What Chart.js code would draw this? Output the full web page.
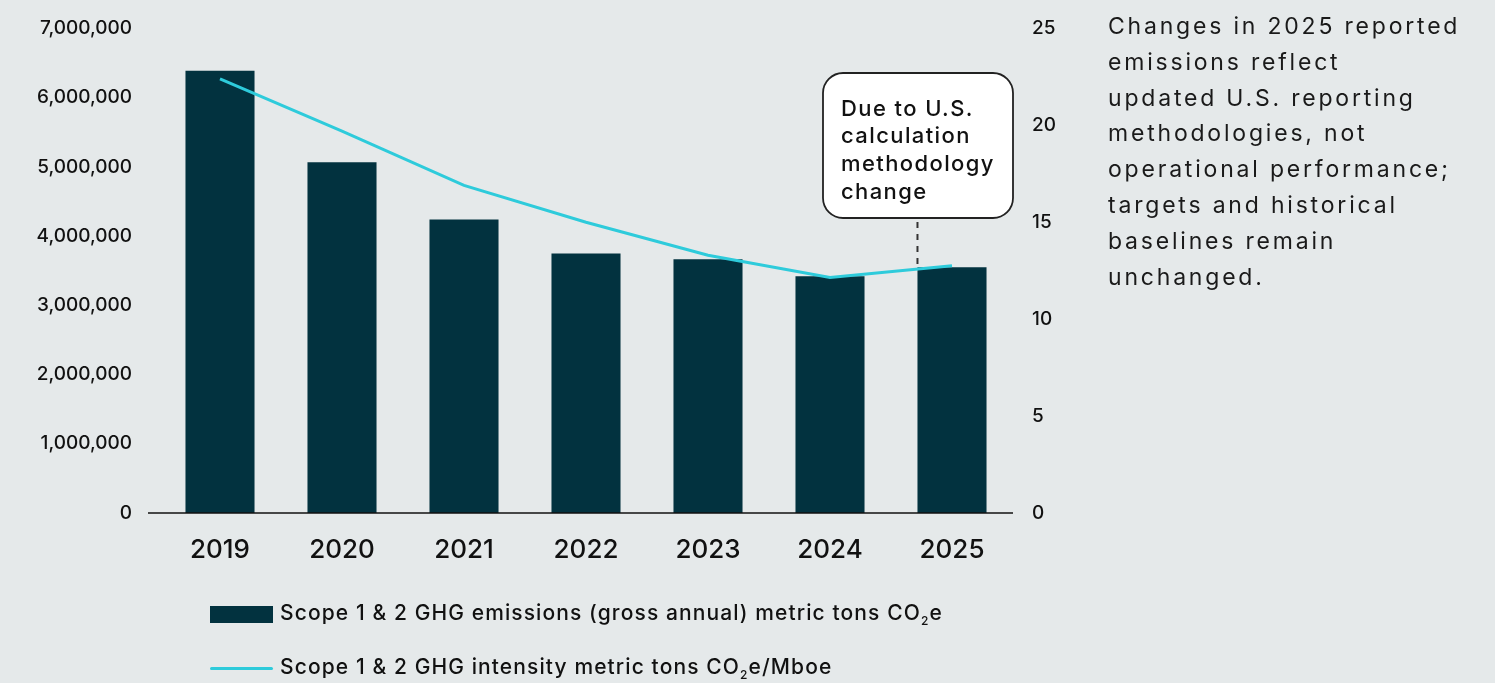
<!DOCTYPE html>
<html>
<head>
<meta charset="utf-8">
<script src="https://cdn.jsdelivr.net/npm/chart.js@4"></script>
<style>
  html, body { margin: 0; padding: 0; background: #e5e9ea; }
  body { width: 1495px; height: 683px; position: relative; overflow: hidden; font-family: Inter, "Noto Sans", sans-serif; }
  #wrap { position: absolute; left: 0; top: -10px; width: 1495px; height: 693px; }
  .note { position: absolute; left: 1108px; top: 9px; width: 387px; font-size: 23px; line-height: 35.8px; letter-spacing: 2.8px; color: #1a1a1a; white-space: nowrap; }
  .legend { position: absolute; left: 210px; font-size: 21px; color: #111; font-weight: 500; letter-spacing: 1.1px; white-space: nowrap; }
  .legend .sw { display: inline-block; width: 63px; vertical-align: middle; margin-right: 7px; }
  .legend sub { font-size: 12px; }
</style>
</head>
<body>
<div id="wrap"><canvas id="aChart" width="1495" height="693"></canvas></div>
<div class="note">Changes in 2025 reported<br>emissions reflect<br>updated U.S. reporting<br>methodologies, not<br>operational performance;<br>targets and historical<br>baselines remain<br>unchanged.</div>
<div class="legend" style="top:600px"><span class="sw" style="height:17px;background:#02323f"></span>Scope 1 &amp; 2 GHG emissions (gross annual) metric tons CO<sub>2</sub>e</div>
<div class="legend" style="top:654px"><span class="sw" style="height:3px;background:#2ecbdb;border-radius:2px"></span>Scope 1 &amp; 2 GHG intensity metric tons CO<sub>2</sub>e/Mboe</div>
<script>
let years = ["2019", "2020", "2021", "2022", "2023", "2024", "2025"]
let emissions = [6390000, 5065000, 4240000, 3750000, 3665000, 3420000, 3550000]
let intensity = [22.4, 19.7, 16.9, 15.0, 13.3, 12.15, 12.75]
let leftTicks = [0, 1000000, 2000000, 3000000, 4000000, 5000000, 6000000, 7000000]
let rightTicks = [0, 5, 10, 15, 20, 25]
let noteLines = ["Due to U.S.", "calculation", "methodology", "change"]

let barColor = "#02323f"
let lineColor = "#2ecbdb"
let font = "Inter, 'Noto Sans', sans-serif"

// canvas sits 10px above the page top
let shift = 10

// baseline that runs a bit past the first bar, plus the callout box
let extras = {
  id: "extras",
  afterDatasetsDraw(chart) {
    let ctx = chart.ctx
    let area = chart.chartArea
    let y = chart.scales.y

    ctx.save()
    ctx.strokeStyle = "#111"
    ctx.lineWidth = 1.5
    ctx.beginPath()
    ctx.moveTo(area.left - 11, area.bottom)
    ctx.lineTo(area.right, area.bottom)
    ctx.stroke()

    let bar = chart.getDatasetMeta(1).data[6]
    let dashX = bar.x - bar.width / 2
    let boxL = 823, boxT = 73 + shift, boxW = 190, boxH = 145
    ctx.setLineDash([6, 6])
    ctx.lineWidth = 2
    ctx.strokeStyle = "#333"
    ctx.beginPath()
    ctx.moveTo(dashX, boxT + boxH + 4)
    ctx.lineTo(dashX, y.getPixelForValue(emissions[6]) - 2)
    ctx.stroke()
    ctx.setLineDash([])

    ctx.beginPath()
    ctx.roundRect(boxL, boxT, boxW, boxH, 20)
    ctx.fillStyle = "#fff"
    ctx.fill()
    ctx.lineWidth = 1.8
    ctx.strokeStyle = "#222"
    ctx.stroke()

    ctx.fillStyle = "#111"
    ctx.font = "500 22px " + font
    ctx.letterSpacing = "1.4px"
    ctx.textBaseline = "middle"
    noteLines.forEach((t, i) => ctx.fillText(t, boxL + 18, boxT + 36 + i * 27.7))
    ctx.restore()
  }
}

let aChart = new Chart(document.getElementById("aChart"), {
  data: {
    labels: years,
    datasets: [
      {
        type: "line",
        data: intensity,
        yAxisID: "y1",
        borderColor: lineColor,
        borderWidth: 3,
        pointRadius: 0,
        tension: 0,
        order: 0,
      },
      {
        type: "bar",
        data: emissions,
        yAxisID: "y",
        backgroundColor: barColor,
        categoryPercentage: 1,
        barPercentage: 0.566,
        order: 1,
      },
    ],
  },
  plugins: [extras],
  options: {
    responsive: false,
    animation: false,
    layout: { padding: { left: 0, top: 0, right: 392, bottom: 0 } },
    plugins: { legend: { display: false }, tooltip: { enabled: false } },
    scales: {
      x: {
        grid: { display: false, drawTicks: false },
        border: { display: false },
        ticks: { color: "#111", font: { family: font, size: 26, weight: "500" }, padding: 22 },
        afterFit: s => { s.height = 170 },
      },
      y: {
        position: "left",
        min: 0,
        max: 7000000,
        afterBuildTicks: s => { s.ticks = leftTicks.map(v => ({ value: v })) },
        grid: { display: false, drawTicks: false },
        border: { display: false },
        ticks: {
          color: "#111",
          font: { family: font, size: 19, weight: "500" },
          padding: 27,
          callback: v => v.toLocaleString("en-US"),
        },
        afterFit: s => { s.width = 159 },
      },
      y1: {
        position: "right",
        min: 0,
        max: 25,
        afterBuildTicks: s => { s.ticks = rightTicks.map(v => ({ value: v })) },
        grid: { display: false, drawTicks: false },
        border: { display: false },
        ticks: { color: "#111", font: { family: font, size: 19, weight: "500" }, padding: 19 },
        afterFit: s => { s.width = 90 },
      },
    },
  },
});
</script>
</body>
</html>
